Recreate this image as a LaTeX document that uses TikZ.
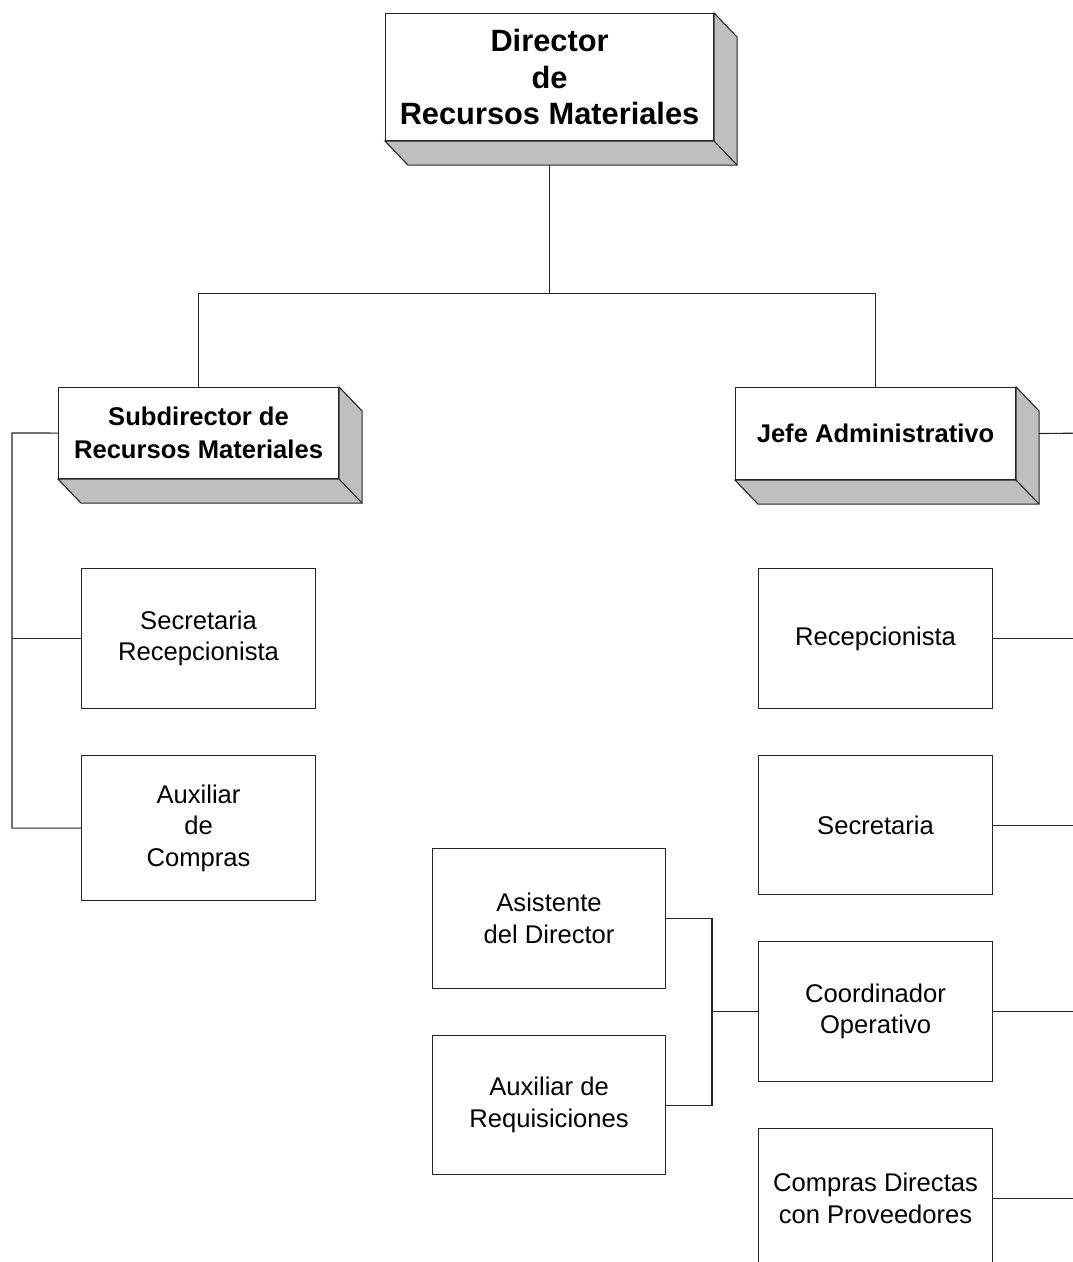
\documentclass[tikz,border=0pt]{standalone}
\usepackage{fontspec}
\setmainfont{Liberation Sans}
\usetikzlibrary{calc}
\newcommand\dirfont{\fontsize{30.8}{36.5}\selectfont\bfseries}
\newcommand\subfont{\fontsize{25.6}{33}\selectfont\bfseries}
\newcommand\bodyfont{\fontsize{25.6}{31.5}\selectfont}
\tikzset{
  line/.style={line width=1.1pt, draw=black!85},
  boxbase/.style={draw=black!85, line width=1.1pt, fill=white, align=center, inner sep=0pt, anchor=north west},
  plainbox/.style={boxbase, minimum width=234pt, minimum height=140pt, font=\bodyfont},
  headbox/.style={boxbase, font=\subfont},
  side/.style={fill=black!25, draw=black!85, line width=1.1pt, line join=miter},
}
\newcommand\extrude[1]{%
  \filldraw[side] (#1.north east) -- ($(#1.north east)+(23,24)$) -- ($(#1.south east)+(23,24)$) -- ($(#1.south west)+(23,24)$) -- (#1.south west) -- (#1.south east) -- cycle;
  \draw[side] (#1.south east) -- ($(#1.south east)+(23,24)$);
}
\begin{document}
\begin{tikzpicture}[x=1pt,y=-1pt]
\path[use as bounding box] (0,0) rectangle (1073,1262);
\clip (0,0) rectangle (1073,1262);
\fill[white] (0,0) rectangle (1073,1262);

% heads
\node[headbox, font=\dirfont, minimum width=328pt, minimum height=127pt] (dir) at (385,13) {Director\\de\\Recursos Materiales};
\extrude{dir}
\node[headbox, minimum width=280pt, minimum height=91pt] (sub) at (58,387) {Subdirector de\\Recursos Materiales};
\extrude{sub}
\node[headbox, minimum width=280pt, minimum height=92pt] (jefe) at (735,387) {Jefe Administrativo};
\extrude{jefe}

% left column
\node[plainbox] (secrec) at (81,568) {Secretaria\\Recepcionista};
\node[plainbox, minimum height=145pt] (auxcom) at (81,755) {Auxiliar\\de\\Compras};

% right column
\node[plainbox] (recep) at (758,568) {Recepcionista};
\node[plainbox, minimum height=139pt] (secre) at (758,755) {Secretaria};
\node[plainbox] (coord) at (758,941) {Coordinador\\Operativo};
\node[plainbox] (compras) at (758,1128) {Compras Directas\\con Proveedores};

% middle column
\node[plainbox, minimum width=233pt] (asis) at (432,848) {Asistente\\del Director};
\node[plainbox, minimum width=233pt, minimum height=139pt] (auxreq) at (432,1035) {Auxiliar de\\Requisiciones};

% connectors
\coordinate (dirbot) at ($(dir.south)+(0,24)$);
\coordinate (junc) at ($(dirbot)+(0,128)$);
\draw[line] (dirbot) -- (junc);
\draw[line] (junc) -| (sub.north);
\draw[line] (junc) -| (jefe.north);

\coordinate (lspine) at (12,433);
\draw[line] (sub.west) -- (lspine) |- (auxcom.west);
\draw[line] (lspine |- secrec.west) -- (secrec.west);

\coordinate (jefeside) at ($(jefe.east)+(23,0)$);
\coordinate (rend) at (1090,433);
\draw[line] (jefeside) -- (rend);
\draw[line] (recep.east) -- (rend |- recep.east);
\draw[line] (secre.east) -- (rend |- secre.east);
\draw[line] (coord.east) -- (rend |- coord.east);
\draw[line] (compras.east) -- (rend |- compras.east);

\coordinate (mspine) at (712,918);
\draw[line] (asis.east) -- (mspine |- asis.east) |- (auxreq.east);
\draw[line] (coord.west) -- (mspine |- coord.west);
\end{tikzpicture}
\end{document}
